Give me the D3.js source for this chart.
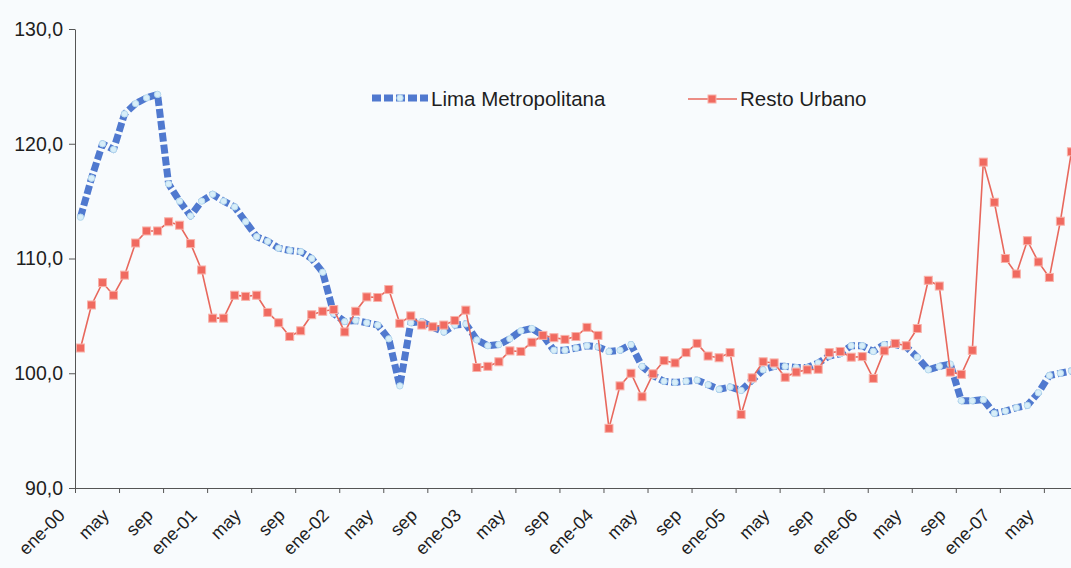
<!DOCTYPE html>
<html>
<head>
<meta charset="utf-8">
<script src="https://cdn.jsdelivr.net/npm/d3@7"></script>
<style>
  html, body { margin: 0; padding: 0; background: #f8fbfd; }
  svg { display: block; }
  text { font-family: "Liberation Sans", Arial, sans-serif; fill: #1e1e1e; }
</style>
</head>
<body>
<svg id="chart" width="1071" height="568"></svg>
<script>
// ---- data ----
const monthNames = ["ene","feb","mar","abr","may","jun","jul","ago","sep","oct","nov","dic"];
const years = ["00","01","02","03","04","05","06","07"];
const nMonths = 91; // ene-00 .. jul-07
const categories = [];
for (let k = 0; k < nMonths; k++) categories.push(monthNames[k % 12] + "-" + years[Math.floor(k / 12)]);

const tickLabels = ["ene-00","may","sep","ene-01","may","sep","ene-02","may","sep","ene-03","may","sep",
  "ene-04","may","sep","ene-05","may","sep","ene-06","may","sep","ene-07","may"];

const yTicks = [90, 100, 110, 120, 130];

const limaMetropolitana = [
  113.6, 117.0, 120.0, 119.5, 122.6, 123.5, 124.0, 124.3, 116.5, 115.0, 113.7, 115.0,
  115.6, 115.0, 114.5, 113.2, 111.9, 111.5, 110.9, 110.7, 110.6, 110.0, 108.8, 105.2,
  104.5, 104.6, 104.4, 104.2, 103.0, 98.9, 104.4, 104.5, 104.0, 103.6, 104.2, 104.3,
  102.9, 102.4, 102.5, 103.0, 103.7, 103.9, 103.3, 102.0, 102.0, 102.2, 102.4, 102.3,
  101.9, 102.0, 102.5, 100.6, 99.8, 99.3, 99.2, 99.3, 99.4, 99.0, 98.6, 98.8,
  98.5, 99.4, 100.3, 100.6, 100.6, 100.5, 100.5, 100.9, 101.5, 101.7, 102.4, 102.4,
  101.9, 102.5, 102.5, 102.3, 101.4, 100.3, 100.6, 100.8, 97.6, 97.6, 97.7, 96.5,
  96.7, 97.0, 97.2, 98.3, 99.8, 100.0, 100.2
];

const restoUrbano = [
  102.2, 105.95, 107.9, 106.8, 108.55, 111.35, 112.4, 112.4, 113.2, 112.9, 111.3, 109.0,
  104.8, 104.8, 106.8, 106.7, 106.8, 105.3, 104.4, 103.2, 103.7, 105.1, 105.4, 105.55,
  103.6, 105.4, 106.65, 106.6, 107.3, 104.35, 105.0, 104.2, 104.05, 104.2, 104.6, 105.5,
  100.5, 100.6, 101.0, 101.95, 101.9, 102.7, 103.3, 103.1, 102.95, 103.2, 104.0, 103.3,
  95.2, 98.9, 100.0, 97.95, 99.95, 101.1, 100.9, 101.8, 102.6, 101.5, 101.35, 101.8,
  96.4, 99.6, 101.0, 100.9, 99.65, 100.1, 100.3, 100.35, 101.8, 101.9, 101.4, 101.45,
  99.55, 101.95, 102.6, 102.4, 103.9, 108.1, 107.6, 100.1, 99.9, 102.0, 118.4, 114.9,
  110.0, 108.65, 111.55, 109.7, 108.35, 113.25, 119.3
];

// ---- layout ----
const svg = d3.select("#chart");
const W = 1071, H = 568;
svg.append("rect").attr("width", W).attr("height", H).attr("fill", "#f8fbfd");

const x0 = 75, step = 11.01;
const x = d3.scaleBand().domain(categories).range([x0, x0 + nMonths * step]).padding(0);
const xIdx = d3.scaleLinear().domain([0, nMonths]).range([x0, x0 + nMonths * step]);
const y = d3.scaleLinear().domain([90, 130]).range([488, 29]);
const cx = c => x(c) + x.bandwidth() / 2;

const locale = d3.formatLocale({decimal: ",", thousands: ".", grouping: [3], currency: ["", ""]});
const fmt = locale.format(".1f");

// Y axis
const yAxis = svg.append("g").attr("transform", `translate(${x0},0)`)
  .call(d3.axisLeft(y).tickValues(yTicks).tickFormat(fmt).tickSizeInner(6).tickSizeOuter(0).tickPadding(6));
yAxis.select(".domain").attr("stroke", "#555");
yAxis.selectAll(".tick line").attr("stroke", "#555");
yAxis.selectAll(".tick text").style("font-size", "19.5px").attr("fill", "#1e1e1e")
  .style("font-family", "'Liberation Sans', Arial, sans-serif");

// X axis (ticks at category boundaries every 4 months)
const tickIdx = d3.range(0, nMonths, 4);
const xAxis = svg.append("g").attr("transform", `translate(0,${y(90)})`)
  .call(d3.axisBottom(xIdx).tickValues(tickIdx).tickFormat("").tickSizeInner(5).tickSizeOuter(0));
xAxis.select(".domain").attr("stroke", "#555");
xAxis.selectAll(".tick line").attr("stroke", "#555");

// X labels, rotated
svg.append("g").selectAll("text").data(tickLabels).join("text")
  .attr("transform", (d, i) => `translate(${cx(categories[i * 4]) - 19},${y(90) + 24}) rotate(-45)`)
  .attr("text-anchor", "end")
  .attr("dy", "0.35em")
  .style("font-size", "18px")
  .text(d => d);

// Lima Metropolitana line
const blue = "#5079cf";
const lineGen = d3.line().x((d, i) => cx(categories[i])).y(d => y(d));
svg.append("path").datum(limaMetropolitana)
  .attr("d", lineGen).attr("fill", "none")
  .attr("stroke", blue).attr("stroke-width", 7)
  .attr("stroke-dasharray", "9,3").attr("stroke-linejoin", "round");
svg.append("g").selectAll("circle").data(limaMetropolitana).join("circle")
  .attr("cx", (d, i) => cx(categories[i])).attr("cy", d => y(d))
  .attr("r", 3.2).attr("fill", "#d8eef9").attr("stroke", "#b4d8ee").attr("stroke-width", 1);

// Resto Urbano line
const red = "#e8685d";
svg.append("path").datum(restoUrbano)
  .attr("d", lineGen).attr("fill", "none")
  .attr("stroke", red).attr("stroke-width", 1.6);
svg.append("g").selectAll("rect").data(restoUrbano).join("rect")
  .attr("x", (d, i) => cx(categories[i]) - 4).attr("y", d => y(d) - 4)
  .attr("width", 8).attr("height", 8)
  .attr("fill", "#f06a60").attr("stroke", "#f8b2aa").attr("stroke-width", 1);

// Legend
const lg = svg.append("g");
lg.append("line").attr("x1", 372).attr("x2", 428).attr("y1", 98).attr("y2", 98)
  .attr("stroke", blue).attr("stroke-width", 7).attr("stroke-dasharray", "9,3");
lg.append("circle").attr("cx", 400).attr("cy", 98).attr("r", 3.2)
  .attr("fill", "#d8eef9").attr("stroke", "#b4d8ee");
lg.append("text").attr("x", 431).attr("y", 99).attr("dy", "0.35em")
  .style("font-size", "20.5px").text("Lima Metropolitana");
lg.append("line").attr("x1", 688).attr("x2", 737).attr("y1", 99).attr("y2", 99)
  .attr("stroke", red).attr("stroke-width", 1.6);
lg.append("rect").attr("x", 712 - 4).attr("y", 99 - 4).attr("width", 8).attr("height", 8)
  .attr("fill", "#f06a60").attr("stroke", "#f8b2aa");
lg.append("text").attr("x", 740).attr("y", 99).attr("dy", "0.35em")
  .style("font-size", "20.5px").text("Resto Urbano");
</script>
</body>
</html>
